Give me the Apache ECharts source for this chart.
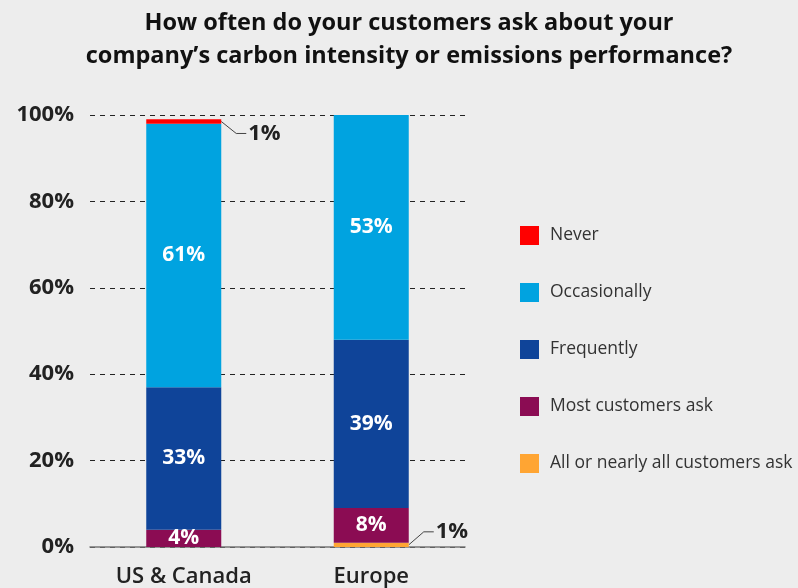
<!DOCTYPE html>
<html>
<head>
<meta charset="utf-8">
<script src="https://cdn.jsdelivr.net/npm/echarts@6/dist/echarts.min.js"></script>
<style>
  html, body { margin: 0; padding: 0; background: #ededed; }
  #chart { width: 798px; height: 588px; }
</style>
</head>
<body>
<div id="chart"></div>
<script>
// Survey answers by region, in percent
const regions = ['US & Canada', 'Europe'];
const allOrNearlyAll = [0, 1];
const mostCustomers = [4, 8];
const frequently = [33, 39];
const occasionally = [61, 53];
const never = [1, 0];
const yTicks = [0, 20, 40, 60, 80, 100];

const FONT = '"Open Sans", "Noto Sans", sans-serif';
const BAR_W = 75;

const inside = {
  show: true,
  position: 'inside',
  color: '#fff',
  fontFamily: FONT,
  fontWeight: 'bold',
  fontSize: 21,
  formatter: p => p.value > 2 ? p.value + '%' : ''
};

function barSeries(name, data, color) {
  return {
    name: name,
    type: 'bar',
    stack: 'total',
    data: data,
    barWidth: BAR_W,
    itemStyle: { color: color },
    label: inside,
    emphasis: { disabled: true }
  };
}

const chart = echarts.init(document.getElementById('chart'));
chart.setOption({
  backgroundColor: '#ededed',
  animation: false,
  title: {
    text: 'How often do your customers ask about your\ncompany\u2019s carbon intensity or emissions performance?',
    left: 404,
    textAlign: 'center',
    top: 2,
    textStyle: {
      fontFamily: FONT,
      fontWeight: 'bold',
      fontSize: 23.5,
      lineHeight: 33,
      color: '#111'
    }
  },
  legend: {
    orient: 'vertical',
    left: 520,
    top: 226,
    padding: 0,
    itemWidth: 19,
    itemHeight: 19,
    itemGap: 38,
    icon: 'rect',
    data: ['Never', 'Occasionally', 'Frequently', 'Most customers ask', 'All or nearly all customers ask'],
    textStyle: { fontFamily: FONT, fontSize: 17.5, color: '#333', padding: [0, 0, 0, 6] }
  },
  grid: { left: 90, right: 333, top: 115, bottom: 41 },
  xAxis: {
    type: 'category',
    data: regions,
    axisLine: { lineStyle: { color: '#777', width: 1.5 } },
    axisTick: { show: false },
    axisLabel: { fontFamily: FONT, fontSize: 22, fontWeight: 600, color: '#222', margin: 19 }
  },
  yAxis: {
    type: 'value',
    min: yTicks[0],
    max: yTicks[yTicks.length - 1],
    interval: 20,
    axisLine: { show: false },
    axisTick: { show: false },
    splitLine: { lineStyle: { color: '#222', type: [5, 5], width: 1 } },
    axisLabel: {
      formatter: v => v + '%',
      fontFamily: FONT,
      fontWeight: 'bold',
      fontSize: 22,
      color: '#222',
      margin: 16
    }
  },
  series: [
    barSeries('All or nearly all customers ask', allOrNearlyAll, '#ffa533'),
    barSeries('Most customers ask', mostCustomers, '#8b0c53'),
    barSeries('Frequently', frequently, '#0f4499'),
    barSeries('Occasionally', occasionally, '#00a3e0'),
    barSeries('Never', never, '#ff0000')
  ]
});

// Thin slices get their value written beside the bar with a bent leader line.
// Anchor: right edge of the bar at the middle of the slice.
function callout(catIndex, sliceBase, sliceValue, rise) {
  const mid = sliceBase + sliceValue / 2;
  const p = chart.convertToPixel({ gridIndex: 0 }, [catIndex, mid]);
  const x0 = p[0] + BAR_W / 2;
  const y0 = p[1];
  const x1 = x0 + 15, y1 = y0 + rise;
  const x2 = x1 + 10;
  return [
    {
      type: 'polyline',
      shape: { points: [[x0, y0], [x1, y1], [x2, y1]] },
      style: { stroke: '#444', lineWidth: 1, fill: null },
      silent: true
    },
    {
      type: 'text',
      x: x2 + 2,
      y: y1,
      style: {
        text: sliceValue + '%',
        fontFamily: FONT,
        fontWeight: 'bold',
        fontSize: 22,
        fill: '#222',
        verticalAlign: 'middle'
      },
      silent: true
    }
  ];
}

const graphics = [];
regions.forEach((r, i) => {
  if (never[i] > 0) {
    const base = allOrNearlyAll[i] + mostCustomers[i] + frequently[i] + occasionally[i];
    graphics.push(...callout(i, base, never[i], 12));
  }
  if (allOrNearlyAll[i] > 0) {
    graphics.push(...callout(i, 0, allOrNearlyAll[i], -13));
  }
});
chart.setOption({ graphic: graphics });
</script>
</body>
</html>
